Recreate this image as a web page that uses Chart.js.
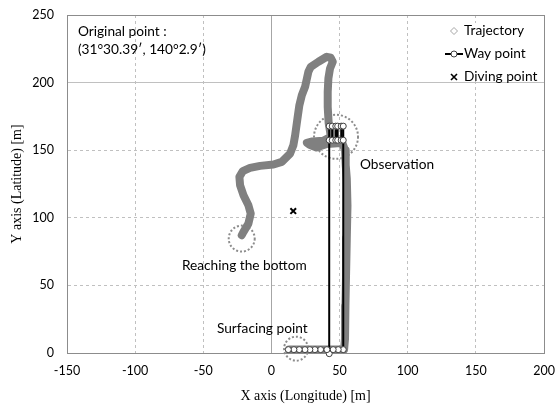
<!DOCTYPE html>
<html lang="en">
<head>
<meta charset="UTF-8">
<title>Vehicle trajectory</title>
<script src="https://cdn.jsdelivr.net/npm/chart.js"></script>
<style>
  html, body { margin: 0; padding: 0; background: #fff; }
  #wrap { width: 555px; height: 405px; position: relative; }
</style>
</head>
<body>
<div id="wrap"><canvas id="chart"></canvas></div>
<script>
// trajectory read along the centre of the grey band (m)
const trajX = [-21.8, -20.5, -16.9, -15.2, -16.9, -20.5, -23, -23.5, -21, -15.7, -8.3, 1.5, 7.6, 13.7, 16.1, 17.4, 19.1, 20.5, 22.3, 24.7, 27.1, 28.9, 34.5, 40.6, 43.5, 45, 43, 41.8, 41.3, 41.3, 42, 43, 43.5, 38, 30, 26, 28, 33, 40, 46, 52, 54, 54.5, 55.3, 55.8, 55.3, 54.8, 54.3, 54, 53.3, 45, 35, 25, 13];
const trajY = [87.1, 89.6, 95.7, 103.1, 109.3, 116.7, 124.1, 130.3, 134.5, 136.9, 138.4, 139.4, 141.4, 147.5, 153.7, 161.1, 173.5, 183.3, 190.7, 196.9, 208, 211.7, 215.4, 219.1, 218.4, 215.4, 210.5, 203.1, 193.2, 182, 170, 164, 159.9, 157, 156.5, 155.5, 154, 152, 154.5, 155, 155.5, 150, 139, 129, 109, 85, 60, 35, 10.6, 2.5, 2.5, 2.5, 2.5, 2.5];

// way points (m)
const wayX = [42.4, 42.4, 42.4, 44.6, 44.6, 47.2, 47.2, 48.6, 48.6, 51.2, 51.2, 52.7, 52.7, 52.7, 49, 45.3, 40.7, 36.1, 31.9, 28.2, 24.6, 20.4, 16.5, 12.4];
const wayY = [-0.5, 157.4, 167.8, 167.8, 157.4, 157.4, 167.8, 167.8, 157.4, 157.4, 167.8, 167.8, 157.4, 2.5, 2.5, 2.5, 2.5, 2.5, 2.5, 2.5, 2.5, 2.5, 2.5, 2.5];

// diving point (m)
const diveX = [16];
const diveY = [105];

const xTicks = [-150, -100, -50, 0, 50, 100, 150, 200];
const yTicks = [0, 50, 100, 150, 200, 250];

const zip = (xs, ys) => xs.map((x, i) => ({ x: x, y: ys[i] }));

// annotations, anchored in data units
const notes = [
  { text: 'Original point :', x: -142, y: 238 },
  { text: '(31\u00B030.39\u2032, 140\u00B02.9\u2032)', x: -142, y: 224.6 },
  { text: 'Observation', x: 65, y: 139.7 },
  { text: 'Reaching the bottom', x: -65.7, y: 64.9 },
  { text: 'Surfacing point', x: -40, y: 18.3 }
];
const rings = [
  { x: -21.8, y: 84.6, r: 13 },
  { x: 47.4, y: 159.9, r: 22 },
  { x: 18.1, y: 3.2, r: 12 }
];

const FONT = 'Lato, "Open Sans", sans-serif';

const overlay = {
  id: 'overlay',
  beforeDatasetsDraw(chart) {
    const { ctx, scales: { x, y } } = chart;
    ctx.save();
    ctx.strokeStyle = '#8c8c8c';
    ctx.lineWidth = 2;
    ctx.setLineDash([2, 2]);
    rings.forEach(r => {
      ctx.beginPath();
      ctx.arc(x.getPixelForValue(r.x), y.getPixelForValue(r.y), r.r, 0, Math.PI * 2);
      ctx.stroke();
    });
    ctx.restore();
  },
  afterDraw(chart) {
    const { ctx, chartArea, scales: { x, y } } = chart;
    ctx.save();
    ctx.font = '13.7px ' + FONT;
    ctx.fillStyle = '#000';
    ctx.textBaseline = 'middle';
    notes.forEach(n => {
      ctx.fillText(n.text, x.getPixelForValue(n.x), y.getPixelForValue(n.y));
    });

    // legend box, top right inside the plot
    const lx = chartArea.right - 80;
    const top = chartArea.top + 16;
    ctx.fillStyle = '#fff';
    ctx.fillRect(lx - 24, top - 8, 79, 58);
    const sets = chart.data.datasets;
    sets.forEach((ds, i) => {
      const cy = top + i * 23;
      const sx = lx - 10;
      ctx.save();
      if (i === 0) {
        ctx.strokeStyle = '#a6a6a6';
        ctx.lineWidth = 1;
        ctx.beginPath();
        ctx.moveTo(sx, cy - 3.5); ctx.lineTo(sx + 3.5, cy);
        ctx.lineTo(sx, cy + 3.5); ctx.lineTo(sx - 3.5, cy);
        ctx.closePath();
        ctx.stroke();
      } else if (i === 1) {
        ctx.strokeStyle = '#000';
        ctx.lineWidth = 2;
        ctx.beginPath();
        ctx.moveTo(sx - 9, cy); ctx.lineTo(sx + 9, cy);
        ctx.stroke();
        ctx.beginPath();
        ctx.arc(sx, cy, 3, 0, Math.PI * 2);
        ctx.fillStyle = '#fff';
        ctx.fill();
        ctx.lineWidth = 1;
        ctx.strokeStyle = '#404040';
        ctx.stroke();
      } else {
        ctx.strokeStyle = '#000';
        ctx.lineWidth = 1.6;
        ctx.beginPath();
        ctx.moveTo(sx - 3, cy - 3); ctx.lineTo(sx + 3, cy + 3);
        ctx.moveTo(sx + 3, cy - 3); ctx.lineTo(sx - 3, cy + 3);
        ctx.stroke();
      }
      ctx.restore();
      ctx.fillStyle = '#000';
      ctx.fillText(ds.label, lx, cy);
    });
    ctx.restore();
  }
};

const gridDash = ctx => {
  const v = ctx.tick ? ctx.tick.value : null;
  return (v === 0 || v === 250 || v === 200 || v === -150) ? [] : [3, 3];
};

new Chart(document.getElementById('chart'), {
  type: 'scatter',
  data: {
    datasets: [
      {
        label: 'Trajectory',
        data: zip(trajX, trajY),
        showLine: true,
        borderColor: '#808080',
        borderWidth: 8,
        borderJoinStyle: 'round',
        borderCapStyle: 'round',
        pointRadius: 0,
        tension: 0,
        order: 3
      },
      {
        label: 'Way point',
        data: zip(wayX, wayY),
        showLine: true,
        borderColor: '#000',
        borderWidth: 2,
        pointRadius: 3,
        pointBorderWidth: 1,
        pointBorderColor: '#404040',
        pointBackgroundColor: '#fff',
        clip: 8,
        order: 2
      },
      {
        label: 'Diving point',
        data: zip(diveX, diveY),
        pointStyle: 'crossRot',
        pointRadius: 4,
        pointBorderWidth: 2,
        borderColor: '#000',
        order: 1
      }
    ]
  },
  options: {
    responsive: true,
    maintainAspectRatio: false,
    animation: false,
    layout: { padding: { top: 15, right: 11, left: 0, bottom: 0 } },
    plugins: { legend: { display: false }, tooltip: { enabled: false } },
    scales: {
      x: {
        type: 'linear',
        min: -150, max: 200,
        afterBuildTicks: s => { s.ticks = xTicks.map(v => ({ value: v })); },
        afterFit: s => { s.height = 52; s.paddingLeft = 0; s.paddingRight = 0; },
        grid: {
          color: c => (c.tick && c.tick.value === 0) ? '#a6a6a6' : (c.tick && (c.tick.value === -150 || c.tick.value === 200) ? '#8c8c8c' : '#c0c0c0'),
          drawTicks: false
        },
        border: { color: '#8c8c8c', dash: gridDash },
        ticks: { color: '#000', font: { family: FONT, size: 12.5 }, padding: 10 },
        title: {
          display: true,
          text: 'X axis (Longitude) [m]',
          color: '#000',
          font: { family: '"Liberation Serif", serif', size: 14 },
          padding: { top: 0, bottom: 0 }
        }
      },
      y: {
        type: 'linear',
        min: 0, max: 250,
        afterBuildTicks: s => { s.ticks = yTicks.map(v => ({ value: v })); },
        afterFit: s => { s.width = 67; s.paddingTop = 0; s.paddingBottom = 0; },
        grid: {
          color: c => (c.tick && (c.tick.value === 0 || c.tick.value === 250)) ? '#8c8c8c' : '#c0c0c0',
          drawTicks: false
        },
        border: { color: '#8c8c8c', dash: gridDash },
        ticks: { color: '#000', font: { family: FONT, size: 12.5 }, padding: 13 },
        title: {
          display: true,
          text: 'Y axis (Latitude) [m]',
          color: '#000',
          font: { family: '"Liberation Serif", serif', size: 14 },
          padding: { top: 9, bottom: 0 }
        }
      }
    }
  },
  plugins: [overlay]
});
</script>
</body>
</html>
